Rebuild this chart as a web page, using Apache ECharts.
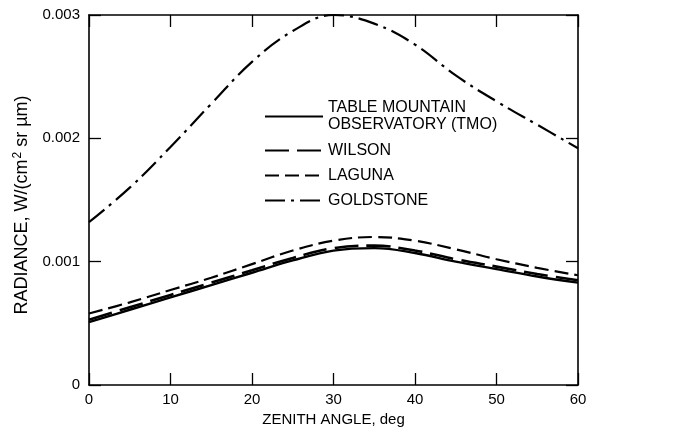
<!DOCTYPE html>
<html>
<head>
<meta charset="utf-8">
<script src="https://cdn.jsdelivr.net/npm/echarts@6/dist/echarts.min.js"></script>
<style>
html,body{margin:0;padding:0;background:#fff;}
#chart{width:676px;height:436px;}
</style>
</head>
<body>
<div id="chart"></div>
<script>
// Zenith angle (deg)
var angles = [0, 5, 10, 15, 20, 25, 30, 35, 40, 45, 50, 55, 60];
// Radiance, W/(cm^2 sr um)
var tmo       = [0.00051, 0.00061, 0.00071, 0.00081, 0.00091, 0.00101, 0.00109, 0.00111, 0.00107, 0.00100, 0.00094, 0.00088, 0.00083];
var wilson    = [0.00053, 0.00063, 0.00073, 0.00083, 0.00093, 0.00103, 0.00111, 0.00113, 0.00109, 0.00102, 0.00096, 0.00090, 0.00085];
var laguna    = [0.00058, 0.00067, 0.00077, 0.00087, 0.00098, 0.00109, 0.00117, 0.00120, 0.00117, 0.00110, 0.00102, 0.00095, 0.00089];
var goldstone = [0.00132, 0.00160, 0.00193, 0.00228, 0.00262, 0.00287, 0.00300, 0.00293, 0.00276, 0.00251, 0.00230, 0.00211, 0.00192];
var seriesNames = ['TABLE MOUNTAIN\nOBSERVATORY (TMO)', 'WILSON', 'LAGUNA', 'GOLDSTONE'];
var xTicks = [0, 10, 20, 30, 40, 50, 60];
var yTicks = [0, 0.001, 0.002, 0.003];

function pairs(vals) {
  return angles.map(function (a, i) { return [a, vals[i]]; });
}

var FONT = 'Liberation Sans';
var chart = echarts.init(document.getElementById('chart'), null, {renderer: 'canvas'});

var axisLine = {show: true, onZero: false, lineStyle: {color: '#000', width: 1.6}};
var tickIn = {show: true, inside: true, length: 12, lineStyle: {color: '#000', width: 1.3}};

function mkLine(name, vals, type, width) {
  return {
    name: name, type: 'line', data: pairs(vals), smooth: 0.4,
    symbol: 'none', showSymbol: false, clip: false,
    lineStyle: {color: '#000', width: width, type: type},
    itemStyle: {color: '#000'},
    emphasis: {disabled: true}
  };
}

function mkLegend(item, top) {
  return {
    orient: 'vertical', left: 264, top: top, padding: 0,
    itemWidth: 58, itemHeight: 14,
    itemStyle: {color: 'rgba(0,0,0,0)', borderWidth: 0, opacity: 0},
    textStyle: {fontFamily: FONT, fontSize: 16, color: '#000', lineHeight: 17},
    data: [item],
    selectedMode: false
  };
}

chart.setOption({
  animation: false,
  backgroundColor: '#fff',
  textStyle: {fontFamily: FONT, color: '#000'},
  grid: {left: 89, right: 98, top: 15, bottom: 51, containLabel: false},
  legend: [
    mkLegend({name: seriesNames[0], textStyle: {padding: [17, 0, 0, 0]}}, 91),
    mkLegend({name: seriesNames[1]}, 142),
    mkLegend({name: seriesNames[2]}, 167),
    mkLegend({name: seriesNames[3]}, 192)
  ],
  xAxis: [{
    type: 'value', min: xTicks[0], max: xTicks[xTicks.length - 1], interval: 10,
    position: 'bottom',
    name: 'ZENITH ANGLE, deg', nameLocation: 'middle', nameGap: 16,
    nameTextStyle: {fontFamily: FONT, fontSize: 15, color: '#000'},
    axisLine: axisLine, axisTick: tickIn,
    axisLabel: {fontFamily: FONT, fontSize: 15, color: '#000', margin: 7},
    splitLine: {show: false}
  }, {
    type: 'value', min: xTicks[0], max: xTicks[xTicks.length - 1], interval: 10,
    position: 'top',
    axisLine: axisLine, axisTick: tickIn,
    axisLabel: {show: false}, splitLine: {show: false}
  }],
  yAxis: [{
    type: 'value', min: yTicks[0], max: yTicks[yTicks.length - 1], interval: 0.001,
    position: 'left',
    name: 'RADIANCE, W/(cm{sup|2} sr µm)', nameLocation: 'middle', nameGap: 56,
    nameRotate: 90,
    nameTextStyle: {fontFamily: FONT, fontSize: 18, color: '#000', padding: [0, 10, 0, 0],
      rich: {sup: {fontFamily: FONT, fontSize: 12, color: '#000', verticalAlign: 'top', padding: [0, 0, 9, 1]}}},
    axisLine: axisLine, axisTick: tickIn,
    axisLabel: {fontFamily: FONT, fontSize: 15, color: '#000', margin: 9,
      formatter: function (v) { return v === 0 ? '0' : v.toFixed(3); }},
    splitLine: {show: false}
  }, {
    type: 'value', min: yTicks[0], max: yTicks[yTicks.length - 1], interval: 0.001,
    position: 'right',
    axisLine: axisLine, axisTick: tickIn,
    axisLabel: {show: false}, splitLine: {show: false}
  }],
  series: [
    mkLine(seriesNames[0], tmo, 'solid', 2.4),
    mkLine(seriesNames[1], wilson, [24, 8], 2.6),
    mkLine(seriesNames[2], laguna, [14, 6], 2.2),
    mkLine(seriesNames[3], goldstone, [20, 6, 3, 6], 2.2)
  ]
});
</script>
</body>
</html>
